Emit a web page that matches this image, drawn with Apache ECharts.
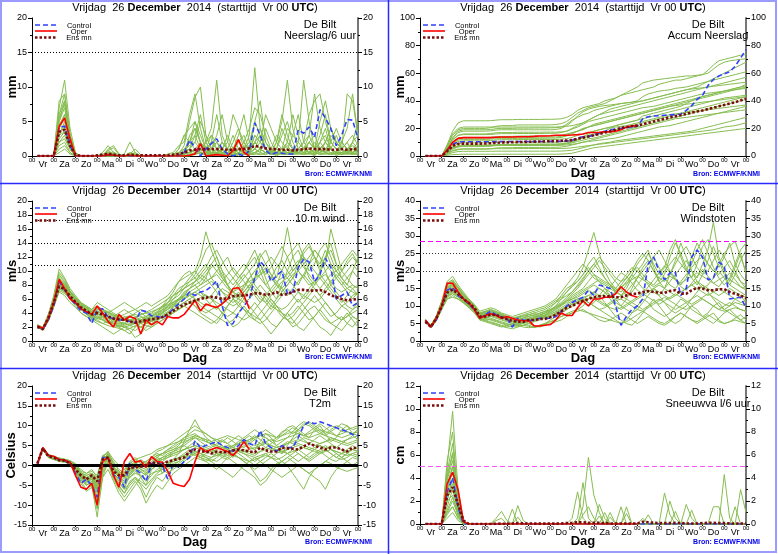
<!DOCTYPE html>
<html><head><meta charset="utf-8">
<script src="https://cdn.jsdelivr.net/npm/echarts@6/dist/echarts.min.js"></script>
<style>html,body{margin:0;padding:0;background:#fff}#c{width:778px;height:554px}</style>
</head><body><div id="c"></div>
<script>
const hours=[6,12,18,24,30,36,42,48,54,60,66,72,78,84,90,96,102,108,114,120,126,132,138,144,150,156,162,168,174,180,186,192,198,204,210,216,222,228,234,240,246,252,258,264,270,276,282,288,294,300,306,312,318,324,330,336,342,348,354,360];
const dayNames=['Vr','Za','Zo','Ma','Di','Wo','Do','Vr','Za','Zo','Ma','Di','Wo','Do','Vr'];

// ---- Neerslag / 6 uur (mm)
const precipControl=[0,0,0,0, 4.2,4.3,1.5,0, 0,0,0,0, 0,0.1,0.1,0, 0,0,0,0, 0,0,0,0, 0,0,0,0.5, 2.3,1.2,0,1.0, 1.8,2.5,1.0,0.3, 0,0.3,0,0.8, 4.8,3.0,0.8,0.2, 0.5,0.4,0.3,0.3, 3.8,3.3,4.2,2.7, 6.7,5.5,4.0,1.5, 3.0,5.3,5.2,2.5];
const precipOper=[0,0,0,0, 4.3,5.5,2.5,0, 0,0,0,0, 0,0.2,0.1,0, 0,0.1,0,0, 0,0,0,0, 0,0,0,0, 0.1,0.3,1.8,0, 0.1,0.2,0.1,0, 0.8,2.4,0.5,0];
const precipMean=[0,0,0,0, 3.5,3.8,1.5,0.2, 0,0,0,0.1, 0.2,0.3,0.2,0.1, 0.1,0.2,0.1,0.1, 0.1,0.1,0.1,0.1, 0.1,0.2,0.3,0.5, 0.8,0.9,1.0,1.0, 1.0,1.0,1.0,0.9, 0.9,1.0,1.0,1.1, 1.5,1.3,1.1,1.0, 1.0,0.9,0.9,0.8, 0.9,1.0,1.1,1.0, 1.0,1.0,0.9,0.9, 1.0,0.9,1.0,1.0];
const precipMembers=[
[0,0,0,0, 5,8,2,0, 0,0,0,0, 0.5,1.5,0.5,0, 0,0,0,0, 0,0,0,0, 0,0,0.3,1.5, 5,8.5,10,3, 1,2,1,0.5, 0,0.5,1,2, 5,3,1,0.5, 0,0.5,1,3, 2,1,0.5,0, 1,2,4,2, 1,0.5,2,1],
[0,0,0,0, 7,11,4,0.5, 0,0,0,0, 0,0.5,0.3,0, 0.3,2,0.5,0, 0,0,0,0, 0,0.2,1,3, 2,1,0.5,2, 4,11,3,1, 0.5,1,0.5,1, 2,1,0.5,0.3, 0.5,1,4,3, 6,2,1,0.5, 2,4,1,0, 0.5,1,2,5],
[0,0,0,0, 3,5,1.5,0, 0,0,0,0, 0,0.2,0,0, 0,0.3,0,0, 0,0,0,0, 0,0,0.2,0.8, 1,3,6,2, 0.5,0.2,1,2, 6,4,1,3, 12.8,4,2,0.5, 1,3,5,2, 0.5,1,3,9, 4,2,1,3, 1,2,0.5,1],
[0,0,0,0, 4.5,6,2.5,0, 0,0,0,0, 0,1,1.5,0.3, 0,0,0,0, 0,0,0.1,0, 0,0,0,0.3, 0.5,1,0.5,0.3, 1,3,6,2, 0.5,1,0.5,0.3, 0.2,1,0.5,0.5, 2,5,11,4, 1,0.5,2,1, 3,6,2,1, 1,9,8,3],
[0,0,0,0, 2,3,1,0, 0,0,0,0, 0,0,0,0, 0,0,0,0, 0,0,0,0, 0,0,0,0.5, 2,5,3,1, 0.5,0.3,1,0.5, 0.3,0,0.5,1, 2,1,0.5,0.2, 0.3,0.5,0.3,0.5, 1,0.5,0.3,1, 2,1,0.5,0.3, 0.5,0.3,1,0.5],
[0,0,0,0, 6,8,3,0.2, 0,0,0,0, 0.2,0.8,0.3,0, 0,0,0,0, 0,0,0,0, 0.3,0.5,1.5,2, 6,9,4,1, 2,1,0.5,1, 3,1,2,4, 7,6,3,1, 0.5,1,0.5,0.3, 1,2,6,8, 9,5,2,1, 1,0.5,2,3],
[0,0,0,0, 1,1.5,0.5,0, 0,0,0,0, 0,0,0,0, 0,0.2,0,0, 0,0,0,0, 0,0,0,0, 0.2,0.5,0.3,0.2, 0,0.3,0.5,0.2, 0,0.5,1,0.3, 0.5,0.3,0.2,0.5, 1,0.5,0.3,0.2, 0.3,0.5,1,0.5, 0.2,0.3,0.5,0.3, 0.5,0.3,0.2,0.5],
[0,0,0,0, 5,7,2,0, 0,0,0,0, 0,0.3,0.2,0, 0,0,0,0, 0,0,0,0, 0,0,0.5,1, 2,3,1,0.5, 1,2,0.5,0.5, 1,3,6,2, 1,0.5,4,2, 0.5,1,1.5,0.5, 2,11,5,1, 0.5,1,1,0.5, 2,1,0.5,1, 3,2,1,0.5],
[0,0,0,0, 3.5,4,1,0, 0,0,0,0, 0,0,0.3,0, 0,0,0,0, 0,0,0,0, 0,0,0.3,0.5, 1,0.5,0.3,0.5, 2,6,2,1, 0.5,1,0.5,0.3, 2,4,1,0.5, 0.5,1,2,6, 3,1,0.5,0.3, 1,2,4,2, 1,0.5,0.3,0.5],
[0,0,0,0, 2.5,3.5,1.2,0, 0,0,0,0, 0,0.5,0.2,0, 0,0,0,0, 0,0,0,0, 0,0,0,0.3, 3,4,2,0.5, 0.3,0.5,1,0.5, 0.2,0.5,1,0.5, 3,2,1,0.5, 2,6,3,1, 0.5,0.3,1,0.5, 1,2,1,0.5, 2,4,9,3],
[0,0,0,0, 8,9,3,0.3, 0,0,0,0, 0,0,0,0, 0,0,0,0, 0,0,0,0, 0,0,0,0, 0,0.5,1,0.5, 0.2,0.3,0.5,0.2, 0.1,0.3,0.5,0.3, 0.5,1,0.5,0.3, 0.5,0.3,0.5,1, 0.5,1,0.5,2, 1,0.5,0.3,0.5, 0.3,0.5,0.3,0.2],
[0,0,0,0, 4,6,2,0, 0,0,0,0, 0,0.2,0.1,0, 0,0.5,0.3,0, 0,0,0,0, 0,0,0.2,0.5, 1,2,5,3, 1,0.5,2,1, 0.5,2,3,1, 5,8,2,1, 0.5,0.3,0.5,0.3, 1,2,3,1, 5,8,4,2, 1,0.5,1,2],
[0,0,0,0, 1.5,2,0.5,0, 0,0,0,0, 0,0,0,0, 0,0,0,0, 0,0,0,0, 0,0,0,0, 0.1,0.2,0.5,0.3, 0.3,0.5,0.3,0.2, 0.5,0.3,0.2,0.5, 1,3,1,0.5, 0.3,0.5,1,0.5, 0.3,1,0.5,0.3, 0.5,1,2,1, 0.5,0.3,0.5,1],
[0,0,0,0, 6,9,3,0, 0,0,0,0, 0,0.6,0.2,0, 0,0.2,0.5,0, 0,0,0,0, 0,0,1,3, 4,5,2,1, 3,2,1,0.5, 0.5,1,2,1, 3,2,6,4, 2,1,0.5,0.5, 0.5,1,2,1, 1,0.5,3,2, 2,1,0.5,1],
[0,0,0,0, 3,4.5,2,0.2, 0,0,0,0, 0,0.8,1.2,0.2, 0,0.3,1,0.2, 0,0.1,0,0, 0,0.2,0.5,1, 1.5,2,1,0.5, 0.5,1,2,1, 0.5,0.3,1.5,1, 2,3,1,0.5, 0.3,0.5,2,1, 1,2,1,0.5, 2,3,1,0.5, 0.5,1,1.5,1],
[0,0,0,0, 5.5,7.5,3,0.3, 0,0,0,0, 0,0.2,0.4,0, 0,0,0,0, 0,0,0,0, 0,0.1,0.3,0.5, 0.5,0.3,1,2, 3,1,0.5,0.3, 2,4,2,0.5, 1,0.5,0.3,1, 3,2,1,0.5, 0.5,1,0.5,0.3, 1,0.5,2,4, 2,1,0.5,0.3],
[0,0,0,0, 0.5,1,0.3,0, 0,0,0,0, 0,0,0,0, 0,0,0,0, 0,0,0,0, 0,0,0,0, 0,0.3,0.5,0.2, 0.2,0.5,0.3,0.1, 0.2,0.3,0.5,0.2, 0.3,0.2,0.5,0.3, 0.2,0.3,0.2,0.5, 0.3,0.2,0.3,0.2, 0.5,0.3,0.2,0.3, 0.2,0.3,0.5,0.2],
[0,0,0,0, 3,3.5,1.5,0, 0,0,0,0, 0,0.4,0.6,0.1, 0,0,0.2,0, 0,0,0,0, 0,0,0.2,0.5, 2,4,2,1, 0.5,0.5,1,3, 1,2,1,0.5, 2,1,0.5,0.3, 1,4,2,1, 0.5,1,2,3, 1,0.5,0.3,0.5, 1,2,3,1.5],
[0,0,0,0, 4,5.5,2,0, 0,0,0,0, 0,0,0,0, 0,0.4,0.2,0, 0,0,0,0, 0,0,0,0.2, 0.5,1,2,1, 0.5,1,0.5,0.3, 0.2,1,0.5,0.3, 1,2,1,0.5, 1,0.5,1,0.5, 0.5,0.3,0.5,1, 0.5,2,1,0.5, 0.3,0.5,1,0.5],
[0,0,0,0, 2,2.5,1,0, 0,0,0,0, 0,0,0,0, 0,0,0,0, 0,0,0,0, 0,0,0,0, 0.3,1,0.5,0.3, 0.5,0.3,0.2,0.5, 1,0.5,0.3,0.2, 0.5,1,0.5,0.3, 0.5,0.3,0.5,0.3, 1,0.5,0.3,0.5, 0.3,0.5,1,0.5, 0.3,0.5,0.3,0.5]
];
const precipRefs=[15];

// ---- Accum Neerslag (mm)
const accumControl=[0,0,0,0, 4.2,8.5,10.0,10.3, 10.3,10.3,10.3,10.3, 10.3,10.4,10.5,10.5, 10.5,10.5,10.5,10.5, 10.5,10.5,10.5,10.6, 10.6,10.7,10.8,11.5, 13.0,14.0,14.2,15.0, 16.5,18.0,19.0,19.5, 20.0,20.5,21.0,21.5, 27.0,28.5,29.0,29.2, 29.5,29.8,30.0,30.3, 33.0,36.5,41.0,44.0, 51.0,55.5,58.0,59.5, 61.0,65.0,71.0,77.0];
const accumOper=[0,0,0,0, 4.3,9.8,12.8,13.3, 13.3,13.3,13.3,13.3, 13.3,13.6,13.8,13.8, 13.8,14.0,14.0,14.0, 14.2,14.5,14.5,14.7, 15.0,15.0,15.0,15.2, 15.5,16.0,17.0,17.0, 17.2,17.5,17.5,18.0, 19.0,21.0,21.7,22.0];
const accumMean=[0,0,0,0, 3.5,7.3,8.8,9.0, 9.0,9.0,9.0,9.1, 9.3,9.6,9.8,9.9, 10.0,10.1,10.2,10.3, 10.4,10.5,10.6,10.7, 10.8,11.0,11.2,11.5, 12.5,13.3,14.2,15.0, 16.0,17.0,18.0,19.0, 20.3,21.0,21.5,22.0, 23.0,24.0,25.0,26.0, 27.0,28.0,28.8,29.5, 30.5,31.5,32.3,33.0, 34.0,35.0,36.0,37.0, 38.0,39.0,40.3,41.5];
const accumMembers=[
[0,0,0,0, 8,18,24,25.5, 25.5,25.5,25.5,25.5, 25.6,26,26.3,26.3, 26.3,26.5,26.5,26.5, 26.5,26.5,26.6,26.6, 26.7,27,28,30, 33,35,36,37, 38,40,41,42, 44,46,48,50, 53,54,55,55.5, 56,56.5,57,57.5, 58,58,58.5,59, 62,66,69,70, 71,72,73,73.5],
[0,0,0,0, 5,13,18,19, 19,19,19,19, 19.2,19.8,20,20, 20,20.2,20.2,20.2, 20.3,20.3,20.3,20.4, 20.5,21,23,26, 28,30,31,33, 34,35,36,37, 38,38.5,39,40, 43,45,46,47, 47.5,48,49,49.5, 50,51,52,53, 54,55,56,57, 58,59,60,61],
[0,0,0,0, 3,7,9,9.5, 9.5,9.5,9.5,9.5, 9.5,9.8,10,10, 10,10,10,10, 10,10,10,10, 10,10.2,10.5,11, 12,13,15,16, 17,18,20,22, 23,24,25,26, 29,30,31,32, 33,34,35,36, 38,40,42,43, 44,45,46,47, 48,49,50,52],
[0,0,0,0, 2,4,5,5.2, 5.2,5.2,5.2,5.2, 5.2,5.3,5.3,5.3, 5.3,5.4,5.4,5.4, 5.4,5.4,5.4,5.4, 5.4,5.5,5.6,6, 6.5,7,7.5,8, 8.5,9,9.5,10, 10.5,11,11.5,12, 12.5,13,13.5,14, 14.5,15,15.5,16, 16.5,17,17.5,18, 18.5,19,20,21, 21.5,22,23,24],
[0,0,0,0, 7,15,19,20, 20,20,20,20, 20.5,21.5,22,22, 22,22.5,22.5,22.5, 22.5,22.5,22.5,22.6, 22.8,23.5,25,28, 31,33,35,36, 37,38,40,42, 44,45,46,47, 48,49,50,52, 53,54,55,55, 56,57,58,59, 60,63,66,68, 69,69.5,70,70.5],
[0,0,0,0, 4,10,13,13.5, 13.5,13.5,13.5,13.5, 13.6,14,14.2,14.2, 14.2,14.4,14.5,14.5, 14.5,14.5,14.6,14.6, 14.7,15,16,17, 18,19,21,23, 24,25,26,27, 28,29,30,31, 32,33,34,35, 36,37,38,39, 40,41,42,43, 44,45,46,47, 48,49,50,51],
[0,0,0,0, 1,2.5,3.2,3.4, 3.4,3.4,3.4,3.4, 3.4,3.5,3.5,3.5, 3.5,3.5,3.5,3.5, 3.5,3.5,3.5,3.5, 3.5,3.6,3.8,4.2, 5,6,7,8, 9,9.5,10,11, 11.5,12,12.5,13, 13.5,14,14.5,15, 15.5,16,16.5,17, 17.5,18,19,20, 21,22,23,24, 25,26,27,28],
[0,0,0,0, 5,11,15,16, 16,16,16,16, 16.3,16.8,17,17, 17,17.2,17.2,17.2, 17.2,17.2,17.3,17.3, 17.3,17.5,18,19.5, 21,23,25,26, 27,28,29,30, 31,32,33,34, 35,35.5,36,37, 38,39,40,41, 42,43,44,45, 45.5,46,46.5,47, 47.5,48,48.5,49],
[0,0,0,0, 3,6,7.5,8, 8,8,8,8, 8,8.2,8.4,8.4, 8.4,8.5,8.5,8.5, 8.5,8.5,8.5,8.5, 8.5,8.8,9.5,10.5, 12,14,16,18, 19,20,21,22, 23,24,25,26, 27,28,29,30, 31,32,33,34, 35,36,37,38, 39,40,41,42, 42.5,43,43.5,44],
[0,0,0,0, 2.5,6,7,7.2, 7.2,7.2,7.2,7.2, 7.2,7.5,7.6,7.6, 7.6,7.6,7.6,7.6, 7.6,7.6,7.6,7.7, 7.7,7.8,8,8.5, 9,10,10.5,11, 11.5,12,12.5,13, 14,15,16,17, 18,19,20,21, 21.5,22,23,24, 25,26,27,28, 29,30,31,32, 33,34,35,36],
[0,0,0,0, 8,16,20,21, 21,21,21,21, 21,21,21,21, 21,21,21,21, 21,21,21,21, 21,21.2,21.5,22, 23,24,26,28, 30,32,34,35, 36,37,38,39, 40,41,42,43, 44,45,46,47, 48,48.5,49,49.5, 50,50.5,51,51.5, 52,52.5,53,53.5],
[0,0,0,0, 0.5,1,1.2,1.3, 1.3,1.3,1.3,1.3, 1.3,1.3,1.3,1.3, 1.3,1.3,1.3,1.3, 1.3,1.3,1.3,1.3, 1.3,1.4,1.6,2, 3,4,5,6, 6.5,7,7.5,8, 8.5,9,9.5,10, 10.5,11,11.5,12, 12.5,13,13.5,14, 14.5,15,15.5,16, 16.5,17,17.5,18, 18.5,19,19.5,20],
[0,0,0,0, 6,13,17,18, 18,18,18,18, 18.2,18.8,19,19, 19,19,19,19, 19,19,19,19, 19.2,20,22,25, 29,32,34,35, 36,36.5,37,37.5, 38,38.5,39,39.5, 40,41,42,43, 44,45,46,47, 48,49,50,52, 54,56,58,60, 62,64,66,68],
[0,0,0,0, 3.5,8,10.5,11, 11,11,11,11, 11.2,11.6,11.8,11.8, 11.8,11.9,11.9,11.9, 11.9,11.9,12,12, 12,12.2,12.6,13.5, 15,16,17,18, 19,20,20.5,21, 21.5,22,23,24, 25,26,27,28, 29,30,30.5,31, 31.5,32,32.5,33, 33.5,34,34.5,35, 35.5,36,36.5,37],
[0,0,0,0, 2,5,6.5,7, 7,7,7,7, 7.3,8,8.3,8.3, 8.3,8.5,8.5,8.5, 8.5,8.6,8.6,8.6, 8.6,8.8,9.2,10, 11.5,13,14,15, 16,17,18,19, 20,21,22,23, 24,25,26,27, 28,29,30,31, 32,33,34,35, 36,37,38,39, 40,41,42,43],
[0,0,0,0, 4,9,11.5,12, 12,12,12,12, 12.2,12.5,12.6,12.6, 12.6,12.8,12.8,12.8, 12.8,12.8,12.9,12.9, 13,13.5,14.5,16, 18,20,21,22, 23,24,25,26, 27,28,29,30, 31,32,33,34, 35,36,37,38, 39,40,41,42, 43,44,45,46, 47,48,49,50],
[0,0,0,0, 1.5,3.5,4.5,5, 5,5,5,5, 5.2,5.8,6,6, 6,6.2,6.2,6.2, 6.2,6.2,6.3,6.3, 6.3,6.5,7,8, 9,10,11,12, 13,14,15,16, 17,18,19,20, 21,22,23,24, 25,26,27,27.5, 28,28.5,29,29.5, 30,30.5,31,31.5, 32,32.5,33,33.5],
[0,0,0,0, 6,12,15,15.5, 15.5,15.5,15.5,15.5, 15.6,16,16.2,16.2, 16.2,16.3,16.3,16.3, 16.3,16.3,16.4,16.4, 16.5,17,18,20, 22,24,26,28, 30,31,32,33, 34,35,36,37, 38,39,40,41, 42,43,44,45, 46,47,48,49, 50,51,52,53, 54,55,56,57],
[0,0,0,0, 2.5,5.5,7,7.5, 7.5,7.5,7.5,7.5, 7.5,7.7,7.8,7.8, 7.8,7.9,7.9,7.9, 7.9,7.9,8,8, 8,8.2,8.8,9.5, 10.5,11.5,12.5,13, 14,15,16,17, 18,19,20,21, 22,23,24,25, 26,27,28,29, 30,31,32,33, 34,35,36,37, 38,39,40,41],
[0,0,0,0, 5,10,12.5,13, 13,13,13,13, 13.1,13.4,13.5,13.5, 13.5,13.6,13.6,13.6, 13.6,13.6,13.7,13.7, 13.8,14.2,15,16.5, 18,19.5,21,22, 23,24,25,26, 27,28,29,30, 31,32,33,34, 35,36,36.5,37, 37.5,38,38.5,39, 39.5,40,40.5,41, 41.5,42,42.5,43]
];
const accumRefs=[];

// ---- 10 m wind (m/s)
const windControl=[2.1,1.7,3.0,5.0, 8.5,7.3,6.0,5.3, 4.3,4.0,2.5,4.5, 4.6,3.4,3.2,3.0, 3.0,2.8,2.6,4.4, 4.2,3.6,3.5,3.3, 3.8,4.6,5.3,6.0, 7.0,6.5,7.0,7.2, 7.8,8.6,5.0,2.2, 2.5,4.0,5.0,6.0, 9.0,11.4,10.5,8.5, 9.3,10.0,6.8,7.0, 10.5,11.7,11.3,8.5, 9.5,11.8,10.5,6.0, 6.5,7.0,5.0,5.5];
const windOper=[2.2,1.8,3.2,5.5, 8.8,7.5,6.0,5.5, 4.6,4.2,3.8,5.0, 4.0,2.8,2.0,3.8, 3.0,3.5,3.2,1.0, 3.0,2.3,2.8,2.3, 3.5,3.3,3.3,3.8, 4.8,5.8,4.3,5.3, 5.0,4.8,5.3,6.0, 7.5,7.6,6.5,4.6];
const windMean=[2.0,1.7,3.3,5.5, 7.8,7.4,6.4,5.6, 4.8,4.3,3.8,4.0, 3.8,3.5,3.2,3.1, 3.0,2.8,2.6,2.8, 3.0,3.1,3.2,3.4, 3.8,4.3,4.8,5.2, 5.5,5.8,6.0,6.2, 6.3,6.2,6.0,6.1, 6.4,6.5,6.5,6.6, 6.8,6.8,6.6,6.7, 7.0,6.6,6.7,7.0, 7.3,7.3,7.2,7.2, 7.3,7.0,6.5,6.3, 6.0,5.8,5.9,6.0];
const windMembers=[
[2.2,1.8,3.5,6.0, 9.5,8.5,7.0,6.0, 5.0,4.5,3.5,4.0, 3.5,3.0,2.5,2.0, 1.5,1.0,2.0,3.0, 3.5,3.0,3.5,4.0, 5.0,6.0,7.0,8.0, 9.0,10.0,12.0,15.6, 13.0,11.0,9.0,8.0, 7.0,6.0,8.0,9.0, 10.0,11.0,9.0,7.0, 6.0,8.0,10.0,12.0, 13.0,11.0,9.0,8.0, 10.0,12.0,14.0,11.0, 9.0,8.0,10.0,12.0],
[2.0,1.5,3.0,5.0, 7.5,7.0,6.0,5.0, 4.0,3.5,3.0,3.5, 3.0,2.5,2.8,3.0, 3.5,3.0,2.5,2.0, 2.5,3.0,3.5,4.5, 5.0,5.5,6.0,6.5, 7.0,6.0,5.0,4.5, 4.0,3.5,3.0,2.5, 3.0,4.0,5.0,4.0, 3.0,2.5,3.0,4.0, 5.0,4.0,3.0,2.0, 2.5,3.5,4.5,5.0, 4.0,3.0,2.5,3.0, 3.5,2.5,2.0,3.0],
[2.3,2.0,3.8,6.5, 10.3,9.0,7.5,6.5, 5.5,5.0,4.5,5.5, 5.0,4.5,4.0,3.5, 3.0,3.5,4.0,4.5, 4.0,3.5,4.0,5.0, 6.0,7.0,8.5,9.5, 10.0,9.0,8.0,9.0, 11.0,12.0,10.0,8.0, 6.0,5.0,6.0,7.5, 9.0,12.0,13.0,11.0, 9.0,12.0,16.2,12.0, 10.0,9.0,11.0,13.0, 12.0,10.0,8.0,9.0, 10.0,11.0,12.0,11.0],
[2.0,1.6,3.0,5.0, 7.0,6.5,5.5,4.8, 4.0,3.5,3.0,2.5, 2.0,1.5,1.0,1.5, 2.0,1.5,0.5,1.0, 2.0,2.5,3.0,3.5, 4.0,4.5,5.0,5.5, 6.0,5.0,4.0,3.5, 3.0,2.5,3.5,5.0, 6.0,7.0,6.0,5.0, 4.0,3.0,2.0,1.0, 2.0,3.0,4.0,5.0, 6.0,5.0,4.0,3.0, 2.0,1.5,0.8,2.0, 3.0,4.0,3.0,2.0],
[2.1,1.9,3.4,5.8, 8.5,8.0,6.8,6.0, 5.2,4.8,4.0,4.5, 4.2,3.8,3.5,3.2, 3.0,2.8,3.0,3.3, 3.5,3.8,4.2,4.8, 5.5,6.5,7.5,8.0, 8.5,9.0,10.0,11.0, 9.0,8.0,7.0,6.5, 7.0,8.0,9.0,10.0, 11.0,12.5,11.0,9.5, 8.0,7.0,8.0,9.0, 11.0,13.0,14.0,12.0, 10.0,11.0,16.0,13.0, 10.0,9.0,8.0,7.5],
[2.2,1.7,3.2,5.3, 8.0,7.5,6.5,5.5, 4.5,4.0,3.5,3.8, 3.5,3.2,2.8,2.5, 2.2,2.5,2.8,2.5, 2.8,3.0,3.3,3.8, 4.2,4.8,5.5,6.0, 6.5,7.0,7.5,8.0, 8.5,8.0,7.0,6.0, 5.5,6.0,7.0,8.0, 7.0,6.0,5.5,6.5, 7.5,8.5,9.0,8.0, 7.0,6.0,7.0,8.0, 9.0,8.0,7.0,6.0, 5.0,5.5,6.5,7.0],
[2.0,1.8,3.6,6.0, 9.0,8.0,7.0,6.2, 5.5,5.0,4.5,5.0, 4.5,4.0,4.5,5.0, 5.5,5.0,4.5,4.0, 3.5,4.0,4.5,5.0, 5.5,6.0,6.5,7.5, 8.5,9.5,11.0,13.0, 14.0,12.0,10.0,9.0, 8.0,9.0,10.0,11.0, 12.0,10.0,8.0,7.0, 8.0,10.0,12.0,13.0, 14.0,12.0,10.0,11.0, 13.0,14.0,12.0,10.0, 11.0,12.0,13.0,12.0],
[2.1,1.6,2.8,4.8, 7.2,6.8,6.0,5.2, 4.5,3.8,3.2,3.0, 2.5,2.2,2.0,1.8, 1.5,1.8,2.2,2.5, 2.2,2.0,2.5,3.0, 3.5,4.0,4.5,5.0, 4.5,4.0,3.5,3.0, 2.5,3.0,4.0,5.0, 6.0,5.5,4.5,3.5, 3.0,4.0,5.0,6.0, 5.0,4.0,3.0,2.5, 3.5,4.5,5.5,6.5, 5.5,4.5,3.5,4.0, 5.0,4.5,3.5,3.0],
[2.3,1.9,3.3,5.6, 8.8,8.2,7.0,6.0, 5.0,4.5,4.0,4.2, 3.8,3.5,3.0,2.8, 2.5,2.2,2.0,2.5, 3.0,3.5,4.0,4.5, 5.5,6.5,7.0,7.5, 8.0,8.5,9.0,10.0, 11.0,10.0,9.0,8.0, 9.0,10.0,11.0,10.0, 8.0,7.0,6.0,5.0, 6.0,7.0,8.0,9.0, 10.0,11.0,12.0,13.0, 12.0,11.0,10.0,9.0, 8.0,7.0,6.0,7.0],
[2.0,1.5,2.9,5.2, 8.2,7.8,6.6,5.8, 5.0,4.5,4.0,4.3, 4.0,3.5,3.2,3.0, 3.2,3.5,3.2,2.8, 3.0,3.2,3.5,4.0, 4.5,5.0,5.5,6.0, 6.5,6.0,5.5,5.0, 5.5,6.5,7.5,7.0, 6.5,6.0,5.5,6.0, 7.0,8.0,7.0,6.0, 5.0,4.5,5.0,6.0, 7.0,6.5,6.0,5.5, 6.0,7.0,8.0,7.0, 6.0,5.0,4.5,5.0],
[2.2,1.8,3.4,5.5, 8.0,7.2,6.2,5.5, 4.8,4.2,3.6,3.2, 3.0,2.6,2.2,2.0, 2.4,2.8,3.2,3.0, 2.6,2.4,2.8,3.5, 4.0,5.0,6.0,7.0, 7.5,8.0,8.5,9.5, 10.5,11.0,9.5,8.0, 7.0,6.5,7.5,9.0, 10.0,9.0,8.0,9.0, 10.5,11.5,10.0,9.0, 8.0,9.5,11.0,12.0, 11.0,13.0,11.0,9.0, 8.0,9.0,10.0,9.0],
[2.1,1.7,3.1,5.0, 7.5,7.0,6.2,5.4, 4.6,4.0,3.2,2.8, 2.5,2.8,3.5,4.0, 4.5,4.0,3.5,3.0, 2.5,2.8,3.2,3.6, 4.0,4.5,5.0,5.5, 6.0,6.5,7.0,6.5, 6.0,5.5,5.0,4.5, 4.0,3.5,3.0,3.5, 4.5,5.5,6.5,5.5, 4.5,3.5,3.0,3.5, 4.5,5.5,6.5,7.5, 6.5,5.5,4.5,3.5, 3.0,3.5,4.5,5.5],
[2.2,1.9,3.7,6.2, 9.8,8.8,7.2,6.3, 5.3,4.8,4.2,4.8, 4.5,4.2,3.8,3.5, 3.8,4.2,4.5,5.0, 5.5,5.0,5.5,6.0, 6.5,7.5,8.5,9.0, 9.5,10.0,9.0,8.5, 9.0,10.0,11.0,12.0, 10.0,9.0,10.0,11.5, 13.0,11.0,9.5,10.5, 12.0,13.5,12.0,10.0, 11.0,12.5,13.5,12.0, 10.5,12.0,13.0,11.0, 10.0,11.5,12.5,11.0],
[2.0,1.6,3.0,5.2, 7.8,7.4,6.4,5.6, 4.8,4.2,3.5,3.2, 3.5,3.0,2.5,2.2, 2.0,2.2,2.5,2.0, 1.5,2.0,2.5,3.0, 3.5,4.0,4.5,5.0, 5.5,5.0,4.5,4.0, 4.5,5.0,4.0,3.0, 2.0,2.5,3.5,4.5, 5.5,4.5,3.5,2.5, 2.0,3.0,4.0,3.0, 2.0,1.5,2.5,3.5, 4.5,3.5,2.5,2.0, 1.5,2.5,3.5,3.0],
[2.1,1.7,3.1,5.4, 8.3,7.6,6.5,5.7, 4.9,4.4,3.9,4.1, 3.9,3.6,3.3,3.2, 3.0,2.9,2.7,2.9, 3.1,3.3,3.6,4.0, 4.6,5.2,5.8,6.4, 7.0,7.5,8.0,8.5, 9.0,9.5,8.5,7.5, 7.0,7.5,8.0,8.5, 9.0,9.5,10.0,9.0, 8.0,7.5,8.5,9.5, 10.0,9.0,8.0,8.5, 9.0,9.5,8.5,7.5, 7.0,7.5,8.0,7.5],
[2.0,1.6,3.2,5.5, 8.6,8.0,6.8,5.9, 5.0,4.6,4.2,4.6, 4.3,4.0,3.6,3.3, 3.4,3.6,3.8,3.5, 3.2,3.5,3.8,4.2, 5.0,5.5,6.0,6.5, 7.5,8.5,9.5,9.0, 8.0,7.0,6.0,5.5, 5.0,5.5,6.5,7.5, 8.5,9.5,10.5,9.5, 8.5,7.5,6.5,7.5, 8.5,9.5,8.5,7.5, 6.5,7.5,8.5,9.5, 8.5,7.5,7.0,6.5],
[2.2,1.8,3.3,5.6, 8.1,7.7,6.6,5.8, 5.1,4.6,4.1,3.9, 3.6,3.3,3.0,2.7, 2.5,2.3,2.6,3.0, 3.3,3.6,4.0,4.4, 4.8,5.3,5.8,6.2, 6.6,7.0,6.5,6.0, 6.5,7.5,8.5,9.5, 10.5,9.5,8.5,7.5, 6.5,5.5,6.5,7.5, 8.5,9.0,9.5,10.5, 11.5,10.5,9.5,8.5, 7.5,8.5,9.5,10.0, 9.0,8.0,7.5,8.0],
[2.1,1.7,3.0,5.1, 7.6,7.2,6.3,5.5, 4.7,4.1,3.4,3.6, 3.3,2.9,2.6,2.4, 2.6,3.0,3.4,3.8, 4.0,4.2,4.5,4.8, 5.2,5.6,6.0,6.8, 7.5,8.0,7.0,6.0, 5.0,4.5,5.5,6.5, 7.5,8.5,9.5,8.5, 7.5,6.5,5.5,4.5, 5.5,6.5,7.5,6.5, 5.5,6.5,7.5,8.5, 9.5,8.5,7.5,6.5, 5.5,6.5,7.5,6.5],
[2.3,1.9,3.5,5.9, 9.2,8.4,7.1,6.1, 5.3,4.9,4.3,4.7, 4.4,4.1,3.7,3.4, 3.2,3.0,3.3,3.7, 4.1,4.5,5.0,5.5, 6.0,6.5,7.0,7.5, 8.0,8.5,9.5,10.5, 12.0,13.0,11.5,10.0, 9.0,8.0,7.0,8.0, 9.0,10.0,11.0,12.0, 11.0,10.0,9.0,10.0, 11.0,12.0,11.0,10.0, 9.0,10.0,11.0,10.0, 9.0,10.0,11.0,10.0],
[2.0,1.6,2.9,4.9, 7.4,7.1,6.2,5.4, 4.6,4.0,3.3,3.4, 3.1,2.7,2.4,2.2, 2.0,1.8,1.5,2.0, 2.5,2.8,3.1,3.4, 3.8,4.2,4.6,5.0, 5.4,5.8,6.2,6.6, 6.0,5.0,4.0,3.5, 4.0,5.0,4.5,4.0, 3.5,3.0,4.0,5.0, 4.5,4.0,3.5,4.0, 5.0,4.0,3.0,3.5, 4.5,5.5,4.5,3.5, 3.0,3.5,4.0,4.5]
];
const windRefs=[17.2,13.9,10.8];

// ---- Windstoten (m/s)
const gustControl=[5.8,4.0,6.0,10.0, 14.5,15.3,13.0,12.0, 10.5,9.0,6.5,7.5, 8.5,7.5,6.8,6.5, 4.0,6.5,6.0,5.8, 6.0,6.5,6.5,6.5, 7.0,8.5,10.0,11.0, 11.8,12.5,14.5,13.0, 16.0,15.5,15.0,10.0, 4.5,7.0,9.0,10.0, 12.0,22.0,24.0,20.0, 17.5,19.5,19.5,13.0, 15.0,24.0,26.0,24.0, 17.5,18.0,22.5,21.5, 12.0,12.3,12.5,9.5];
const gustOper=[6.0,4.0,6.5,10.0, 16.5,16.5,14.0,12.0, 11.0,9.0,6.5,7.3, 7.8,7.3,6.5,7.0, 6.5,6.0,5.8,5.8, 4.3,4.3,4.5,4.7, 6.0,8.0,7.3,7.3, 9.5,11.5,10.0,12.0, 12.0,12.5,12.5,13.5, 15.5,14.0,13.0,12.5];
const gustMean=[5.5,4.0,6.5,10.0, 13.8,14.7,13.5,12.0, 10.8,9.5,7.0,7.0, 7.5,7.5,6.8,6.3, 5.7,5.5,5.5,6.0, 6.0,6.3,6.3,6.8, 7.5,8.5,9.5,10.0, 10.8,11.5,12.0,12.5, 12.8,12.8,12.8,12.5, 12.5,13.0,13.5,13.5, 14.0,14.3,14.0,13.8, 13.8,14.3,14.5,13.5, 13.5,14.5,15.2,15.0, 14.5,14.5,14.8,14.8, 14.0,13.5,13.0,12.2];
const gustMembers=[
[6.0,4.5,7.0,11.0, 16.0,17.5,15.0,13.0, 11.5,10.0,8.0,8.5, 9.0,8.0,7.0,6.0, 5.0,5.5,6.5,7.5, 8.0,7.0,7.5,8.5, 10.0,12.0,14.0,16.0, 18.0,21.0,26.0,31.0, 25.0,20.0,17.0,15.0, 14.0,16.0,19.0,22.0, 24.0,26.0,21.0,17.0, 15.0,19.0,23.0,28.0, 24.0,20.0,18.0,22.0, 26.0,34.0,24.0,20.0, 17.0,21.0,25.0,19.0],
[5.5,3.8,6.0,9.0, 12.0,13.0,12.0,11.0, 9.5,8.0,6.0,6.5, 6.0,5.5,5.0,4.5, 4.0,4.5,5.0,4.5, 4.0,4.5,5.0,5.5, 6.0,7.0,7.5,8.0, 8.5,9.0,8.0,7.0, 6.0,5.5,6.0,7.0, 8.0,7.0,6.0,5.0, 6.0,7.0,6.0,5.0, 4.5,5.5,7.0,8.0, 7.0,6.0,5.0,6.0, 7.0,8.0,6.0,5.0, 5.5,6.5,7.5,6.0],
[6.0,4.2,6.8,10.5, 15.0,16.0,14.0,12.5, 11.0,9.5,7.5,7.8, 8.5,8.0,7.5,7.0, 6.5,6.0,6.5,7.0, 7.5,8.0,8.5,9.5, 11.0,13.0,15.0,16.0, 17.0,19.0,22.0,24.0, 21.0,18.0,16.0,14.0, 13.0,15.0,18.0,20.0, 22.0,25.0,22.0,19.0, 21.0,26.0,29.0,24.0, 20.0,18.0,22.0,27.0, 29.0,25.0,21.0,24.0, 28.0,22.0,19.0,17.0],
[5.8,4.0,6.2,9.5, 13.0,14.0,13.0,11.5, 10.0,8.5,6.0,5.5, 5.0,4.5,4.0,4.5, 5.0,4.5,4.0,3.8, 4.0,4.5,5.0,6.0, 7.0,8.0,9.0,10.0, 11.0,12.0,11.0,10.0, 9.0,8.0,7.0,6.0, 5.0,6.0,8.0,10.0, 12.0,11.0,9.0,8.0, 7.0,8.0,10.0,12.0, 11.0,9.0,8.0,7.0, 8.0,10.0,11.0,9.0, 8.0,7.0,6.0,7.0],
[6.2,4.5,7.2,11.5, 17.0,18.5,16.0,14.0, 12.0,10.5,8.5,9.0, 9.5,9.0,8.0,7.5, 7.0,7.5,8.0,8.5, 9.0,9.5,10.0,11.0, 12.0,14.0,16.0,18.0, 20.0,22.0,20.0,18.0, 17.0,16.0,15.0,14.0, 16.0,18.0,20.0,21.0, 19.0,17.0,16.0,18.0, 20.0,22.0,24.0,22.0, 20.0,24.0,28.0,25.0, 22.0,20.0,22.0,25.0, 27.0,28.5,24.0,20.0],
[5.5,3.9,6.1,9.8, 14.0,14.5,13.2,11.8, 10.5,9.0,7.0,7.2, 7.5,7.0,6.5,6.2, 5.8,5.5,5.2,5.5, 5.8,6.2,6.8,7.5, 8.5,9.5,10.5,11.5, 12.0,12.5,13.0,14.0, 15.0,14.0,12.0,10.0, 9.0,10.0,11.0,12.0, 13.0,14.0,15.0,14.0, 13.0,12.0,13.0,14.0, 15.0,16.0,15.0,14.0, 13.0,14.0,15.0,14.0, 13.0,12.0,11.0,11.5],
[5.7,4.1,6.5,10.2, 15.5,16.5,14.5,12.8, 11.2,9.8,7.8,8.2, 8.8,8.3,7.6,7.0, 6.4,6.8,7.2,7.6, 7.2,6.8,7.2,8.0, 9.0,10.5,12.0,13.5, 15.0,17.0,19.0,21.0, 23.0,21.0,19.0,17.0, 15.0,13.0,14.0,16.0, 18.0,20.0,24.0,26.0, 23.0,20.0,18.0,16.0, 18.0,22.0,26.0,29.0, 25.0,21.0,18.0,16.0, 18.0,22.0,26.0,28.0],
[5.6,3.8,5.8,9.0, 12.5,13.5,12.5,11.0, 9.8,8.5,6.5,6.0, 5.5,5.0,4.5,4.0, 4.5,5.0,5.5,5.0, 4.5,4.0,4.5,5.0, 5.5,6.0,7.0,8.0, 9.0,10.0,12.0,14.0, 13.0,11.0,9.0,7.0, 6.0,5.0,4.5,6.0, 8.0,10.0,12.0,10.0, 8.0,6.0,5.0,6.0, 8.0,10.0,9.0,7.0, 6.0,5.0,6.5,8.0, 9.0,7.5,6.0,5.0],
[5.9,4.3,6.6,10.8, 15.0,15.5,14.0,12.2, 10.8,9.5,7.2,7.5, 8.0,7.8,7.2,6.8, 6.2,5.8,6.0,6.3, 6.5,7.0,7.5,8.2, 9.0,10.0,11.5,13.0, 14.0,15.0,17.0,19.0, 18.0,17.0,16.0,15.0, 17.0,19.0,21.0,20.0, 18.0,16.0,14.0,13.0, 15.0,17.0,19.0,21.0, 23.0,20.0,17.0,15.0, 16.0,18.0,20.0,18.0, 16.0,15.0,14.0,13.0],
[5.4,3.7,6.0,9.5, 13.5,14.0,12.8,11.5, 10.2,8.8,6.8,6.5, 7.0,6.5,6.0,5.5, 5.0,4.8,5.0,5.5, 6.0,6.5,7.0,7.0, 7.5,8.0,9.0,10.0, 11.0,12.0,13.0,12.0, 11.0,10.0,11.0,12.0, 13.0,12.0,11.0,10.0, 9.0,10.0,11.0,12.0, 11.0,10.0,9.0,10.0, 11.0,12.0,13.0,12.0, 11.0,10.0,9.0,10.0, 11.0,10.0,9.0,8.5],
[6.1,4.4,7.0,11.2, 16.5,17.5,15.5,13.5, 11.8,10.2,8.0,8.5, 9.0,8.5,7.8,7.0, 6.5,7.0,7.5,8.0, 8.5,9.0,9.5,10.5, 11.5,12.5,14.0,15.5, 17.0,19.0,21.0,19.0, 17.0,15.0,13.0,11.0, 10.0,12.0,15.0,18.0, 21.0,23.0,20.0,17.0, 19.0,24.0,28.0,25.0, 21.0,18.0,16.0,19.0, 23.0,27.0,23.0,19.0, 16.0,19.0,23.0,26.0],
[5.6,4.0,6.3,9.8, 14.2,15.0,13.6,12.0, 10.6,9.2,7.0,6.8, 6.5,6.0,5.5,5.0, 4.5,4.2,4.5,5.0, 5.5,6.0,6.5,7.0, 8.0,9.0,10.0,11.0, 12.0,11.0,10.0,11.0, 13.0,15.0,14.0,12.0, 10.0,9.0,8.0,9.0, 11.0,13.0,15.0,13.0, 11.0,9.0,8.0,9.0, 10.0,12.0,14.0,16.0, 14.0,12.0,10.0,9.0, 10.0,12.0,13.0,11.0],
[6.0,4.2,6.9,11.0, 16.0,16.8,15.0,13.2, 11.5,10.0,7.8,8.0, 8.2,7.5,6.8,6.2, 5.6,5.2,5.5,6.0, 6.5,7.2,8.0,9.0, 10.0,11.0,12.5,14.0, 15.5,17.5,20.0,22.0, 20.0,18.0,16.0,14.5, 13.0,14.0,16.0,18.0, 20.0,22.0,24.0,21.0, 18.0,16.0,15.0,17.0, 19.0,21.0,23.0,24.0, 22.0,20.0,19.0,21.0, 23.0,20.0,17.0,15.0],
[5.5,3.9,5.9,9.2, 12.0,12.5,12.0,10.8, 9.5,8.2,6.2,5.8, 5.2,4.8,4.2,3.8, 3.5,4.0,4.5,4.2, 3.8,4.2,4.8,5.5, 6.2,7.0,7.8,8.5, 9.0,8.5,8.0,7.5, 7.0,6.5,6.0,5.5, 5.0,5.5,6.5,7.5, 8.5,7.5,6.5,5.5, 5.0,6.0,7.0,8.0, 7.0,6.0,5.5,6.5, 7.5,6.5,5.5,5.0, 5.5,6.0,5.5,5.0],
[5.7,4.0,6.4,10.0, 14.6,15.2,13.8,12.2, 10.8,9.4,7.2,7.4, 7.8,7.4,6.8,6.4, 6.0,6.2,6.6,7.0, 7.4,7.8,8.4,9.0, 9.8,10.6,11.5,12.5, 13.5,14.5,15.5,16.5, 17.5,16.5,15.5,14.5, 15.5,16.5,17.5,18.5, 17.5,16.5,15.5,16.5, 17.5,18.5,17.5,16.5, 17.5,18.5,19.5,18.5, 17.5,16.5,17.5,18.5, 17.5,16.5,15.5,15.0],
[5.9,4.1,6.7,10.6, 15.3,16.2,14.6,12.6, 11.0,9.7,7.5,7.6, 8.2,7.7,7.0,6.6, 6.1,5.9,6.2,6.6, 7.0,7.5,8.0,8.8, 9.5,10.5,11.5,12.0, 12.5,13.5,14.5,13.5, 12.5,13.5,15.5,17.5, 19.5,18.5,16.5,14.5, 13.5,15.5,17.5,19.5, 21.5,19.5,17.5,15.5, 14.5,16.5,18.5,20.5, 18.5,16.5,15.5,17.5, 19.5,17.5,15.5,14.5],
[5.6,3.9,6.2,9.6, 13.8,14.6,13.3,11.9, 10.4,9.1,6.9,6.9, 7.2,6.8,6.2,5.8, 5.4,5.2,5.4,5.8, 6.3,6.7,7.2,7.8, 8.3,9.0,9.8,10.5, 11.0,11.5,12.0,12.5, 11.5,10.5,9.5,9.0, 9.5,10.5,11.5,12.5, 13.5,12.5,11.5,10.5, 11.5,12.5,13.5,12.5, 11.5,10.5,11.5,12.5, 13.5,12.5,11.5,10.5, 10.0,11.0,10.5,10.0],
[6.0,4.3,6.9,11.1, 16.2,17.0,15.2,13.4, 11.7,10.1,7.9,8.3, 8.6,8.1,7.4,6.8, 6.2,6.5,7.0,7.5, 8.0,8.5,9.0,10.0, 11.0,12.0,13.0,14.0, 16.0,18.0,20.0,22.0, 24.0,22.0,20.0,18.0, 17.0,18.0,20.0,23.0, 25.0,23.0,20.0,18.0, 17.0,19.0,22.0,25.0, 27.0,24.0,21.0,19.0, 20.0,23.0,26.0,24.0, 21.0,19.0,17.0,16.0],
[5.5,3.8,5.9,9.3, 12.8,13.6,12.6,11.2, 9.9,8.6,6.6,6.2, 6.2,5.8,5.2,4.8, 4.6,4.8,5.2,5.6, 6.0,6.4,6.8,7.2, 7.8,8.5,9.5,10.5, 11.5,12.0,11.0,10.0, 9.0,9.5,10.5,11.5, 12.0,11.0,10.0,9.0, 8.5,9.5,10.5,11.5, 12.5,11.5,10.5,9.5, 9.0,10.0,11.0,12.0, 11.0,10.0,9.0,8.5, 9.0,9.5,9.0,8.5],
[5.8,4.1,6.5,10.3, 15.2,15.8,14.2,12.4, 11.0,9.6,7.4,7.8, 8.0,7.6,7.0,6.6, 6.0,5.6,5.8,6.2, 6.8,7.4,8.0,8.6, 9.4,10.2,11.0,12.0, 13.0,14.0,15.0,16.0, 15.0,14.0,13.0,14.0, 15.0,17.0,19.0,17.0, 15.0,14.0,15.0,16.0, 15.0,14.0,13.0,14.0, 15.0,16.0,17.0,16.0, 15.0,14.0,13.0,14.0, 15.0,14.0,13.0,12.5]
];
const gustRefs=[28.5,25,20];

// ---- T2m (Celsius)
const tempControl=[0.5,4.3,2.5,2.0, 1.5,1.2,0.5,-2.0, -4.5,-3.5,-5.0,-8.0, 2.0,2.0,-2.5,-3.0, -5.5,0.8,-1.0,-2.0, -4.0,0.5,1.0,0.0, -3.5,0.5,-0.5,1.0, 2.0,6.2,4.5,5.0, 5.5,6.0,5.0,4.5, 3.5,5.0,6.5,5.5, 5.0,8.8,5.5,4.5, 3.5,5.0,4.5,4.5, 7.0,10.0,11.0,10.5, 11.0,10.5,10.0,9.5, 9.0,8.5,7.8,7.5];
const tempOper=[0.5,4.5,2.5,2.3, 1.5,1.3,0.8,-2.5, -5.5,-6.0,-4.5,-10.0, 1.0,2.0,-2.5,-5.5, 1.0,3.0,0.8,1.2, -0.5,2.2,1.0,0.8, -1.5,-4.5,-5.0,-5.3, -3.5,1.0,4.5,3.5, 4.0,4.5,4.0,3.5, 2.5,4.0,6.0,4.0];
const tempMean=[0.5,4.3,2.3,2.0, 1.3,1.2,0.5,-1.0, -2.5,-3.5,-2.5,-4.0, 1.5,2.0,-1.5,-2.5, -2.5,-0.5,-0.5,-0.3, 0.0,0.8,0.5,0.3, 1.0,1.3,1.7,2.0, 3.5,4.0,3.5,3.5, 3.0,3.5,3.3,3.3, 3.8,4.0,3.8,3.5, 3.3,4.5,3.8,3.5, 3.5,4.5,4.3,4.2, 4.0,4.8,5.5,5.0, 4.5,4.0,4.5,4.5, 4.0,3.5,4.5,4.3];
const tempMembers=[
[0.6,4.5,2.8,2.2, 1.8,1.5,1.2,-0.5, -2.0,-3.0,-5.0,-13.0, -3.0,1.0,-2.0,-4.0, -6.0,-2.0,-1.0,-3.0, -5.0,-1.0,0.5,-2.0, 0.5,1.5,3.0,6.0, 9.0,11.5,9.0,7.0, 6.0,5.0,4.0,3.0, 2.0,4.0,6.0,5.0, 4.0,6.0,8.0,7.0, 5.0,3.0,5.0,7.0, 9.0,8.0,7.0,9.0, 10.0,8.0,6.0,7.0, 9.0,10.0,8.0,9.0],
[0.4,4.0,2.0,1.5, 1.0,0.8,0.5,-1.5, -3.5,-5.0,-4.0,-6.0, 0.5,1.5,-3.0,-5.0, -7.0,-4.0,-3.0,-5.0, -8.0,-5.0,-3.0,-4.0, -2.0,-1.0,0.0,1.0, 2.0,3.0,2.0,1.0, 0.0,-1.0,0.5,2.0, 3.0,2.0,1.0,0.0, -2.0,-4.0,-3.0,-1.0, 0.5,1.0,0.0,-2.0, -4.0,-6.0,-3.0,-1.0, 0.0,1.0,0.5,-0.5, -1.0,-1.5,-1.0,-0.5],
[0.5,4.4,2.5,1.8, 1.5,1.3,1.0,0.0, -1.0,-2.0,-1.0,-3.0, 2.5,3.0,0.5,-1.0, -2.0,1.0,2.0,0.5, 1.0,2.0,3.0,2.5, 3.5,4.0,5.0,7.0, 8.0,9.0,8.5,8.0, 7.0,6.5,6.0,5.5, 6.5,7.5,6.5,6.0, 7.0,8.0,9.0,8.0, 7.0,8.0,9.5,10.0, 9.0,10.5,10.0,9.0, 8.0,9.0,10.0,9.5, 8.5,9.0,9.5,10.0],
[0.3,4.0,2.2,1.6, 1.2,1.0,0.6,-1.0, -3.0,-4.5,-3.0,-9.0, -1.0,2.0,-1.0,-3.0, -4.0,-3.0,-2.0,-2.5, -3.5,-2.0,-1.5,-1.0, -0.5,0.5,1.0,2.0, 3.0,2.5,2.0,3.0, 4.0,3.0,2.0,1.5, 2.5,3.5,3.0,2.0, 1.0,2.0,3.0,2.0, 1.0,0.0,1.0,2.0, 3.0,2.0,1.0,2.0, 3.0,4.0,3.0,2.0, 1.5,2.0,3.0,2.5],
[0.6,4.6,2.6,2.1, 1.6,1.4,1.1,0.2, -2.0,-2.5,-2.0,-3.5, 1.5,2.5,-0.5,-2.0, -3.0,0.0,1.0,-1.0, -2.0,0.0,1.5,1.0, 2.0,2.5,3.0,4.0, 5.0,6.0,5.0,4.5, 4.0,4.5,5.0,4.0, 3.5,4.0,5.0,4.5, 4.0,5.0,6.0,5.0, 4.5,5.0,6.0,5.5, 6.0,7.0,6.5,6.0, 5.5,6.0,7.0,6.5, 6.0,5.5,6.0,6.5],
[0.4,4.2,2.4,1.9, 1.4,1.1,0.8,-1.5, -4.0,-6.0,-5.0,-11.0, -2.0,0.5,-3.5,-6.0, -8.0,-6.0,-4.0,-6.0, -9.5,-7.0,-5.0,-6.0, -4.0,-2.0,-1.0,0.0, 1.0,2.0,1.5,1.0, 2.0,3.0,2.5,2.0, 1.0,0.0,-1.0,-2.0, -3.0,-5.0,-4.0,-2.0, 0.0,1.0,2.0,1.0, 0.0,-1.0,-2.0,-1.0, 0.0,1.0,2.0,3.0, 2.0,1.0,0.0,1.0],
[0.5,4.3,2.3,2.0, 1.7,1.4,1.0,-0.5, -2.5,-3.5,-3.0,-5.0, 1.0,3.0,1.0,-1.5, -2.5,-1.0,0.5,1.5, 0.5,1.5,2.5,3.0, 4.0,5.0,6.0,7.0, 7.5,8.0,7.0,6.0, 5.5,5.0,6.0,7.0, 6.0,5.0,4.5,5.5, 6.5,7.5,7.0,6.0, 7.0,8.5,9.0,8.0, 9.0,10.0,11.0,10.0, 9.0,8.0,9.0,10.0, 9.5,8.5,8.0,8.5],
[0.4,4.1,2.1,1.7, 1.3,1.1,0.7,-1.0, -3.0,-4.0,-3.5,-7.0, 0.0,1.5,-2.0,-3.5, -5.0,-3.0,-1.5,-2.5, -4.0,-2.5,-1.0,-0.5, 0.5,1.0,1.5,2.5, 3.5,4.5,4.0,3.5, 3.0,2.5,3.0,3.5, 4.0,3.0,2.0,1.0, 0.0,1.0,2.0,3.0, 2.0,1.0,2.0,3.0, 4.0,3.0,2.0,3.0, 4.0,5.0,4.0,3.0, 2.0,3.0,4.0,3.5],
[0.6,4.4,2.6,2.0, 1.5,1.2,0.9,-0.8, -2.8,-4.0,-3.0,-6.0, 2.0,3.5,0.0,-2.5, -3.5,-1.5,0.0,-1.0, -1.5,0.5,2.0,3.0, 4.0,4.5,5.5,6.0, 6.5,7.0,6.0,5.0, 4.5,5.5,6.5,5.5, 4.5,5.5,6.5,7.5, 6.5,5.5,4.5,5.5, 6.5,7.5,8.5,9.5, 8.5,7.5,8.5,9.5, 10.5,9.5,8.5,7.5, 7.0,7.5,8.0,8.5],
[0.5,4.2,2.2,1.8, 1.4,1.2,0.9,-0.5, -2.0,-3.0,-2.5,-4.5, 2.0,2.5,-1.0,-2.0, -1.0,0.5,1.5,0.5, -0.5,1.0,2.0,1.5, 2.0,3.0,3.5,4.0, 4.5,5.0,4.5,4.0, 3.5,3.0,3.5,4.0, 4.5,4.0,3.5,3.0, 2.5,3.5,4.5,4.0, 3.5,3.0,4.0,5.0, 5.5,5.0,4.5,4.0, 3.5,4.0,5.0,4.5, 4.0,3.5,4.0,4.5],
[0.5,4.5,2.7,2.2, 1.9,1.6,1.2,0.5, -1.5,-2.0,-1.5,-2.5, 2.5,2.0,-0.5,-1.5, -2.5,-1.5,-0.5,0.5, 1.0,2.0,3.5,4.0, 5.0,6.0,7.0,8.0, 9.0,10.0,9.0,8.0, 7.0,6.0,5.0,4.0, 5.0,6.0,7.0,8.0, 9.0,8.0,7.0,6.0, 5.0,6.0,7.0,8.5, 10.0,11.0,10.5,9.5, 8.5,7.5,8.5,9.5, 10.5,10.0,9.0,9.5],
[0.4,4.0,2.0,1.5, 1.1,0.9,0.5,-2.0, -4.5,-6.5,-5.5,-9.5, -3.0,-1.0,-4.0,-7.0, -9.0,-7.0,-5.0,-3.0, -2.0,-1.0,0.0,-1.0, -2.0,-0.5,0.5,1.5, 2.5,3.5,3.0,2.0, 1.0,0.0,-1.0,-2.0, -3.0,-1.5,0.0,1.0, 2.0,1.0,0.0,-1.0, -2.0,-3.0,-2.0,-1.0, 0.0,-1.0,-2.0,-3.0, -4.0,-6.0,-3.0,-1.0, 0.0,1.0,2.0,1.5],
[0.6,4.6,2.8,2.3, 1.8,1.5,1.1,0.0, -2.0,-3.5,-2.5,-5.5, 1.5,2.5,-1.5,-3.0, -4.0,-2.0,-0.5,-1.5, -2.5,-0.5,1.0,2.0, 3.0,3.5,4.0,5.0, 6.0,7.0,6.5,6.0, 5.5,5.0,4.5,4.0, 3.5,4.5,5.5,6.5, 7.5,6.5,5.5,4.5, 3.5,4.5,5.5,6.5, 7.5,6.5,5.5,6.5, 7.5,6.5,5.5,4.5, 5.5,6.5,7.5,6.5],
[0.5,4.3,2.4,1.9, 1.4,1.2,0.8,-1.2, -3.5,-5.0,-4.0,-8.0, -0.5,1.0,-2.5,-4.5, -6.0,-4.5,-3.0,-4.0, -5.0,-3.5,-2.0,-1.0, 0.0,1.0,2.0,3.0, 4.0,3.0,2.0,1.5, 1.0,2.0,3.0,4.0, 3.0,2.0,1.0,0.0, -1.0,0.0,1.0,2.0, 3.0,4.0,3.0,2.0, 1.0,2.0,3.0,4.0, 5.0,4.0,3.0,2.0, 3.0,4.0,5.0,4.0],
[0.5,4.4,2.4,1.9, 1.5,1.3,0.9,-0.3, -2.2,-3.2,-2.2,-4.2, 1.8,2.2,-1.2,-2.2, -2.0,-0.5,0.5,0.0, -0.5,0.5,1.5,2.0, 2.5,3.0,3.5,4.0, 4.5,5.0,4.5,4.0, 3.5,4.0,4.5,5.0, 4.5,4.0,3.5,4.0, 4.5,5.0,5.5,5.0, 4.5,5.0,5.5,6.0, 6.5,6.0,5.5,5.0, 5.5,6.0,6.5,6.0, 5.5,5.0,5.5,6.0],
[0.4,4.1,2.2,1.7, 1.3,1.1,0.7,-0.8, -2.8,-4.2,-3.5,-6.5, 0.5,1.8,-2.0,-3.5, -4.5,-2.5,-1.0,-1.5, -2.5,-1.0,0.0,0.5, 1.0,1.5,2.0,2.5, 3.0,3.5,3.0,2.5, 2.0,2.5,3.0,3.5, 4.0,3.5,3.0,2.5, 2.0,2.5,3.0,3.5, 4.0,3.5,3.0,3.5, 4.0,4.5,4.0,3.5, 3.0,3.5,4.0,3.5, 3.0,2.5,3.0,3.5],
[0.6,4.5,2.7,2.1, 1.7,1.4,1.0,0.2, -1.8,-2.5,-2.0,-3.0, 2.2,3.5,1.5,0.0, -1.0,0.5,1.5,2.0, 2.5,3.0,4.0,4.5, 5.0,5.5,6.0,6.5, 7.0,7.5,7.0,6.5, 6.0,6.5,7.0,7.5, 7.0,6.5,6.0,6.5, 7.0,7.5,8.0,7.5, 7.0,7.5,8.0,8.5, 8.0,7.5,8.0,8.5, 9.0,8.5,8.0,7.5, 8.0,8.5,8.0,7.5],
[0.4,4.2,2.3,1.8, 1.3,1.1,0.7,-1.2, -3.2,-4.8,-4.5,-10.5, -1.5,1.0,-3.0,-5.5, -7.0,-5.0,-3.5,-4.5, -6.0,-4.0,-2.5,-2.0, -1.0,0.0,1.0,2.0, 2.5,3.0,2.5,2.0, 1.5,1.0,2.0,3.0, 2.5,2.0,1.5,1.0, 1.5,2.0,2.5,2.0, 1.5,2.0,3.0,4.0, 3.0,2.0,1.5,2.5, 3.5,2.5,1.5,1.0, 2.0,3.0,2.5,2.0],
[0.5,4.3,2.5,2.0, 1.6,1.3,0.9,-0.6, -2.4,-3.8,-2.8,-5.0, 1.2,2.8,-0.5,-2.5, -3.0,-1.0,0.0,-0.5, -1.0,0.0,1.0,1.5, 2.5,3.5,4.5,5.5, 6.5,7.5,7.0,6.5, 5.0,4.5,4.0,4.5, 5.0,5.5,6.0,5.5, 5.0,5.5,6.0,6.5, 6.0,6.5,7.0,7.5, 8.0,7.5,7.0,7.5, 8.0,7.5,7.0,6.5, 6.0,6.5,7.0,7.5],
[0.5,4.2,2.3,1.9, 1.5,1.2,0.8,-0.7, -2.6,-3.5,-3.0,-5.5, 1.0,2.5,-1.0,-2.0, -1.5,0.0,0.5,0.0, 0.5,1.5,2.5,3.0, 3.5,4.0,4.5,5.0, 4.0,3.5,3.0,3.5, 4.0,3.5,3.0,2.5, 3.0,3.5,4.0,3.5, 3.0,3.5,4.0,4.5, 4.0,3.5,4.0,4.5, 5.0,4.5,4.0,4.5, 5.0,4.5,4.0,3.5, 3.0,3.5,4.0,3.5]
];
const tempRefs=[0];

// ---- Sneeuwval / 6 uur (cm)
const snowControl=[0,0,0,0, 2.8,4.0,1.5,0, 0,0,0,0, 0,0,0,0, 0,0,0,0, 0,0,0,0, 0,0,0,0, 0,0,0,0, 0,0,0,0, 0,0,0,0, 0,0,0,0, 0,0,0,0, 0,0,0,0, 0,0,0,0, 0,0,0,0];
const snowOper=[0,0,0,0, 3.5,4.5,3.0,0.2, 0,0,0,0, 0,0,0,0, 0,0,0,0, 0,0,0,0, 0,0,0,0, 0,0,0,0, 0,0,0,0, 0,0,0,0];
const snowMean=[0,0,0,0, 2.5,3.2,1.7,0.3, 0,0,0,0, 0,0.02,0.03,0.02, 0.05,0.08,0.05,0.05, 0.03,0.03,0.03,0.03, 0.03,0.05,0.08,0.1, 0.15,0.15,0.1,0.1, 0.1,0.08,0.05,0.05, 0.05,0.05,0.05,0.05, 0.2,0.15,0.1,0.08, 0.08,0.08,0.1,0.08, 0.05,0.05,0.05,0.08, 0.1,0.1,0.08,0.08, 0.05,0.05,0.05,0.05];
const snowMembers=[
[0,0,0,0, 5,9.8,3,0.3, 0,0,0,0, 0,0.5,1.1,0.3, 0,0,0,0, 0,0,0,0, 0,0,0,0.5, 2.8,0.5,0,0, 0,0,0,0, 0,0,0,0, 0,0,0,0, 0,0,0,0, 0,0,0,0, 0,0,0,0, 0,0,0,0],
[0,0,0,0, 4,6,2,0, 0,0,0,0, 0,0,0,0, 0,1.6,0.3,0, 0,0,0,0, 0,0,0,0, 0.5,3.6,0.5,0, 0,0,0,0, 0,0,0,0, 0,0,0,0, 0,0,0,0, 0,0,0,0, 0,0,0,4.3, 0.5,0,0,0],
[0,0,0,0, 3,5,2,0.2, 0,0,0,0, 0,0,0,0, 0,0,0,0, 0,0,0,0, 0,0,0,0, 0,1.5,5.8,2.5, 1,0,0,0, 0,0,0,0, 0,0,0,0, 0,0,0,0, 0,0,0,0, 0,0,0,0, 0,0,0,0],
[0,0,0,0, 2,4,1.5,0, 0,0,0,0, 0,0.3,0.5,0, 0,0,0,0, 0,0,0,0, 0,0,0,0, 0,0,0,0, 1.7,0.5,0,0, 0,1.5,0,0, 0.5,0,0,0, 0,0,0,0, 0,0,0,0, 0,0,0,0, 0,0,0,0],
[0,0,0,0, 1,2,0.8,0, 0,0,0,0, 0,0,0,0, 0,0,0,0, 0,0,0,0, 0,0,0,0, 0,0,0,0, 0,0,0,0, 0,0,0,0, 0,0,0,0, 2.7,0.8,0,0, 0,0,0,0, 0,0,0,0, 0,0,0,0],
[0,0,0,0, 3.5,5,1.8,0, 0,0,0,0, 0,0,0,0, 1.3,0,0,0, 0,0,0,0, 0,0,0,0, 0,0,0,0, 0,0,0,0, 0,0,0,0, 0,0,0,0, 0,0,0,0, 1.7,0.5,0,0, 0,0,0,0, 0,0,3,1, 0,0,0,0],
[0,0,0,0, 0.5,1,0.3,0, 0,0,0,0, 0,0,0,0, 0,0,0,0, 0,0,0,0, 0,0,0,0, 0,0,0,0, 0,0,0,0, 0,0,0,0, 0,0,0,0, 0,0,0,0, 0,0,0,0, 0,0,0,0, 0,0,0,0, 0,0,0,0],
[0,0,0,0, 2.5,3.5,1.2,0, 0,0,0,0, 0,0,0,0, 0,0,0,0, 0,0,0,0, 0,0,0,0, 0,0.8,1.5,0.5, 0,1,0,0, 0,0,0,0, 0,0,0,0, 0,0,0,0, 0,0,0,0, 0,1.5,1.5,0, 0,0,0,0],
[0,0,0,0, 4.5,7,2.5,0, 0,0,0,0, 0,0,0,0, 0,0,0,0, 0,0,0,0, 0,0,0,0, 0,0,0,0, 0,0,0,0, 0,0,0,0, 0,0,0,0, 0,0,0,0, 0,0,0,0, 0,0,0,0, 0,0,0,0, 0,0,0,0],
[0,0,0,0, 1.5,3,1,0, 0,0,0,0, 0,0,0,0, 0,0,0,0, 0,0,0,0, 0,0,0,0, 0,0,0,0, 0,0,0,0, 0,0,0,0, 0,0.8,0,0, 0,2.0,0.5,0, 0,0,0,0, 0,0,0,0, 0,0,0,0, 0,0,1.2,0],
[0,0,0,0, 5.5,8,2,0, 0,0,0,0, 0,0,0,0, 0,0,0,0, 0,0,0,0, 0,0,0,0, 0,0,0,0, 0,0,1,0, 0,0,0,0, 0,0,0,0, 0,0,0,0, 0,0,0,0, 0,0,0,0, 0,0,0,0, 1.8,0,0,0],
[0,0,0,0, 2,2.5,0.7,0, 0,0,0,0, 0,0,0,0, 0,0,0,0, 0,0,0,0, 0,0,0,0, 0,0,0,0, 0,0,0,0, 1.5,0,0,0, 0,0,0,0, 0,0,0,0, 0,0,0,0, 0,0,0,0, 0,0,0,0, 0,0,0,0],
[0,0,0,0, 3,4.5,1.5,0, 0,0,0,0, 0,0,0,0, 0,0,0,0, 0,0,0,0, 0,0,0,0, 0,0,0,0, 0,0,0,0, 0,0,0,0, 0,0,0,0, 0,0,0,0, 0,1.2,0,0, 0,0,0,0, 0,0,0,0, 0,0,0,0],
[0,0,0,0, 1,1.5,0.5,0, 0,0,0,0, 0,0,0,0, 0,0,0,0, 0,0,0,0, 0,0,0,0, 0,0,0,0, 0,0,0,0, 0,0,0,0, 0,0,0,0, 0,0,0,0, 0,0,0,0, 0,0,0,0, 0,0,0,0, 0,0,0,0],
[0,0,0,0, 2.2,3.2,1.3,0, 0,0,0,0, 0,0,0,0, 0,0,0,0, 0,0,0,0, 0,0,0,0, 0,0,0,0, 0,0,0.6,0, 0,0,0,0, 0,0,0,0, 0,0,0,0, 0,0,0,0, 0,0,0,0, 0,0,0,0, 0,0,0,0],
[0,0,0,0, 3.8,5.5,2.2,0, 0,0,0,0, 0,0,0,0, 0,0.6,0,0, 0,0,0,0, 0,0,0,0, 0,0,0,0, 0,0,0,0, 0,0.9,0,0, 0,0,0,0, 0,0,0,0, 0,0,0,0, 0,0,0,0, 0,0,0,0, 0,0,0,0],
[0,0,0,0, 0.8,1.5,0.6,0, 0,0,0,0, 0,0,0,0, 0,0,0,0, 0,0,0,0, 0,0,0,0, 0,0,0,0, 0,0,0,0, 0,0,0,0, 0,0,0,0, 0,0,1.1,0, 0,0,0,0, 0,0,0,0, 0,0,0,0, 0,0,0,0],
[0,0,0,0, 2.8,4,1.8,0, 0,0,0,0, 0,0,0,0, 0,0,0,0, 0,0,0,0, 0,0,0,0, 0,0,0,0, 0,0,0,0, 0,0,0,0, 0,0,0,0, 0,0,0,0, 0,0,0,0, 0,0,0,0, 0,1.5,0,0, 0,0,0,0],
[0,0,0,0, 1.2,2.3,1,0, 0,0,0,0, 0,0,0,0, 0,0,0,0, 0,0,0,0, 0,0,0,0, 0,0,0,0, 0.7,0,0,0, 0,0,0,0, 0,0,0,0, 0,0,0,0, 0,0,0,0, 0,0,0,0, 0,0,0,0, 0,0,0,0],
[0,0,0,0, 4.2,6.2,2.5,0.2, 0,0,0,0, 0,0,0,0, 0,0,0,0, 0,0,0,0, 0,0,0,0, 0,0,0,0, 0,0,0,0, 0,0,0,0, 0,0,0,0, 0,0,0,0, 0,0,0,0, 0,0,0,0, 0,0,0,0, 0,0,0,0]
];
const snowRefs=[5];

// ---------------- layout & styles ----------------
const FF='"Liberation Sans", Arial, sans-serif';
const GREEN='#86bd50', BLUE='#3040ff', RED='#ff0000', MEAN='#7a0c0c';
const panels=[
 {unit:'mm', label:'Neerslag/6 uur', yMin:0,yMax:20,yInt:5, members:precipMembers, control:precipControl, oper:precipOper, mean:precipMean, refs:precipRefs, refKinds:['dot']},
 {unit:'mm', label:'Accum Neerslag', yMin:0,yMax:100,yInt:20, members:accumMembers, control:accumControl, oper:accumOper, mean:accumMean, refs:accumRefs, refKinds:[]},
 {unit:'m/s', label:'10 m wind', yMin:0,yMax:20,yInt:2, members:windMembers, control:windControl, oper:windOper, mean:windMean, refs:windRefs, refKinds:['dot','dot','dot']},
 {unit:'m/s', label:'Windstoten', yMin:0,yMax:40,yInt:5, members:gustMembers, control:gustControl, oper:gustOper, mean:gustMean, refs:gustRefs, refKinds:['mag','grey','grey']},
 {unit:'Celsius', label:'T2m', yMin:-15,yMax:20,yInt:5, members:tempMembers, control:tempControl, oper:tempOper, mean:tempMean, refs:tempRefs, refKinds:['zero']},
 {unit:'cm', label:'Sneeuwva l/6 uur', yMin:0,yMax:12,yInt:2, members:snowMembers, control:snowControl, oper:snowOper, mean:snowMean, refs:snowRefs, refKinds:['pink']}
];
const cells=[
 {x0:0,y0:0,gl:32,gt:18,gh:138},{x0:388,y0:0,gl:420,gt:18,gh:138},
 {x0:0,y0:183,gl:32,gt:201,gh:140},{x0:388,y0:183,gl:420,gt:201,gh:140},
 {x0:0,y0:368,gl:32,gt:386,gh:139},{x0:388,y0:368,gl:420,gt:386,gh:138}
];
const GW=326;
const refStyle={
 dot:{color:'#000',type:[1,2],width:1},
 grey:{color:'#333',type:[1,2],width:1},
 mag:{color:'#ff00ff',type:[5,3],width:1.2},
 pink:{color:'#ff55ff',type:[5,3],width:1.2},
 zero:{color:'#000',type:'solid',width:3}
};
function pairs(arr){return arr.map((v,i)=>[hours[i],v]);}

const grid=[],xAxis=[],yAxis=[],series=[],graphic=[];
panels.forEach((p,k)=>{
 const c=cells[k];
 grid.push({left:c.gl,top:c.gt,width:GW,height:c.gh});
 xAxis.push({gridIndex:k,type:'value',min:0,max:360,interval:24,
   axisLine:{show:true,onZero:false,lineStyle:{color:'#000',width:1}},
   axisTick:{show:true,length:2,lineStyle:{color:'#000'}},
   axisLabel:{formatter:()=> '00',fontSize:6,margin:1,color:'#000',fontFamily:FF},
   splitLine:{show:false}});
 xAxis.push({gridIndex:k,type:'value',min:0,max:360,interval:12,position:'bottom',
   axisLine:{show:false,onZero:false},axisTick:{show:false},splitLine:{show:false},
   axisLabel:{formatter:v=>(v%24===12)?dayNames[(v-12)/24]:'',fontSize:9,margin:4,color:'#000',fontFamily:FF},
   name:'Dag',nameLocation:'middle',nameGap:11,nameMoveOverlap:false,
   nameTextStyle:{fontSize:13,fontWeight:'bold',color:'#000',fontFamily:FF}});
 yAxis.push({gridIndex:k,type:'value',min:p.yMin,max:p.yMax,interval:p.yInt,position:'left',
   axisLine:{show:true,onZero:false,lineStyle:{color:'#000',width:1}},
   axisTick:{show:true,length:4,lineStyle:{color:'#000'}},
   minorTick:{show:true,splitNumber:2,length:2,lineStyle:{color:'#000'}},
   axisLabel:{fontSize:9,margin:5,color:'#000',fontFamily:FF},splitLine:{show:false},
   name:p.unit,nameLocation:'middle',nameGap:p.unit==='Celsius'?14:13,nameMoveOverlap:false,
   nameTextStyle:{fontSize:13,fontWeight:'bold',color:'#000',fontFamily:FF}});
 yAxis.push({gridIndex:k,type:'value',min:p.yMin,max:p.yMax,interval:p.yInt,position:'right',
   axisLine:{show:true,onZero:false,lineStyle:{color:'#777',width:2}},
   axisTick:{show:true,length:4,lineStyle:{color:'#000'}},
   minorTick:{show:true,splitNumber:2,length:2,lineStyle:{color:'#000'}},
   axisLabel:{fontSize:9,margin:5,color:'#000',fontFamily:FF},splitLine:{show:false}});
 const xi=2*k, yi=2*k;
 p.members.forEach(m=>series.push({type:'line',xAxisIndex:xi,yAxisIndex:yi,data:pairs(m),symbol:'none',silent:true,z:2,
   lineStyle:{color:GREEN,width:1}}));
 series.push({type:'line',xAxisIndex:xi,yAxisIndex:yi,data:[],z:3,silent:true,
   markLine:{silent:true,symbol:'none',label:{show:false},animation:false,
     data:p.refs.map((v,j)=>({yAxis:v,lineStyle:refStyle[p.refKinds[j]]}))}});
 series.push({type:'line',xAxisIndex:xi,yAxisIndex:yi,data:pairs(p.control),symbol:'none',silent:true,z:4,
   lineStyle:{color:BLUE,width:1.6,type:[5,3]}});
 series.push({type:'line',xAxisIndex:xi,yAxisIndex:yi,data:pairs(p.oper),symbol:'none',silent:true,z:5,
   lineStyle:{color:RED,width:1.6}});
 series.push({type:'line',xAxisIndex:xi,yAxisIndex:yi,data:pairs(p.mean),symbol:'none',silent:true,z:6,
   lineStyle:{color:MEAN,width:2.6,type:[2.5,2]}});
 graphic.push({type:'text',z:50,style:{x:c.x0+195,y:c.y0+8,align:'center',verticalAlign:'middle',
   text:'{a|Vrijdag  26 }{b|December}{a|  2014  (starttijd  Vr 00 }{b|UTC}{a|)}',
   rich:{a:{fontSize:11,fontFamily:FF,fill:'#000'},b:{fontSize:11,fontFamily:FF,fontWeight:'bold',fill:'#000'}}}});
 const leg=[['Control',{stroke:BLUE,lineWidth:1.6,lineDash:[5,3]},7],['Oper',{stroke:RED,lineWidth:1.6},13],['Ens mn',{stroke:MEAN,lineWidth:2.6,lineDash:[2.5,2]},19.5]];
 leg.forEach(l=>{
   graphic.push({type:'line',z:50,shape:{x1:c.gl+3,y1:c.gt+l[2],x2:c.gl+25,y2:c.gt+l[2]},style:l[1]});
   graphic.push({type:'text',z:50,style:{x:c.gl+47,y:c.gt+l[2]+0.8,align:'center',verticalAlign:'middle',text:l[0],font:'7.5px '+FF,fill:'#000'}});
 });
 graphic.push({type:'text',z:50,style:{x:c.gl+288,y:c.gt+6.5,align:'center',verticalAlign:'middle',text:'De Bilt',font:'11px '+FF,fill:'#000'}});
 graphic.push({type:'text',z:50,style:{x:c.gl+288,y:c.gt+17.5,align:'center',verticalAlign:'middle',text:p.label,font:'11px '+FF,fill:'#000'}});
 graphic.push({type:'text',z:50,style:{x:c.x0+372,y:c.y0+174,align:'right',verticalAlign:'middle',text:'Bron: ECMWF/KNMI',font:'bold 7px '+FF,fill:'#0000ee'}});
});
graphic.push({type:'rect',z:60,shape:{x:1,y:1,width:775,height:551},style:{fill:null,stroke:'#9a9aff',lineWidth:2}});
graphic.push({type:'line',z:60,shape:{x1:388.5,y1:0,x2:388.5,y2:554},style:{stroke:'#2a2aff',lineWidth:1.5}});
graphic.push({type:'line',z:60,shape:{x1:0,y1:183.5,x2:778,y2:183.5},style:{stroke:'#2a2aff',lineWidth:1.5}});
graphic.push({type:'line',z:60,shape:{x1:0,y1:368.5,x2:778,y2:368.5},style:{stroke:'#2a2aff',lineWidth:1.5}});

const chart=echarts.init(document.getElementById('c'),null,{renderer:'canvas'});
chart.setOption({animation:false,backgroundColor:'#fff',grid,xAxis,yAxis,series,graphic});
</script></body></html>
